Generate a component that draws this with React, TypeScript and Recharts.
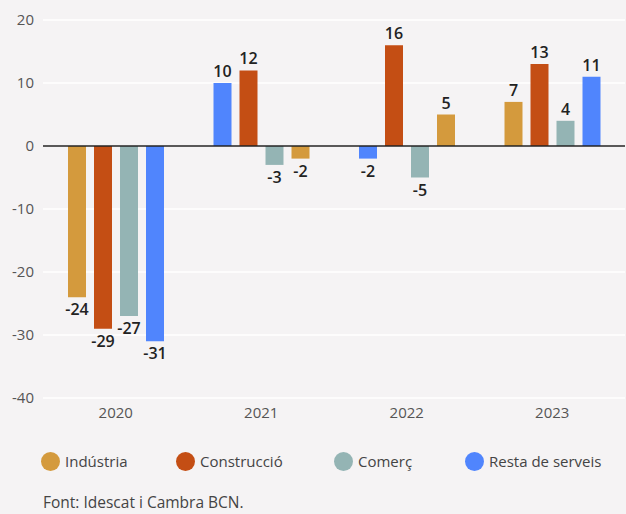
import { BarChart, Bar, XAxis, YAxis, CartesianGrid, ReferenceLine, Cell, LabelList } from 'recharts';

const years = ['2020', '2021', '2022', '2023'];
const seriesNames = ['Indústria', 'Construcció', 'Comerç', 'Resta de serveis'];
const seriesColors = ['#d49a3d', '#c44e14', '#94b4b4', '#5085fd'];

const industria = [-24, -2, 5, 7];
const construccio = [-29, 12, 16, 13];
const comerc = [-27, -3, -5, 4];
const restaServeis = [-31, 10, -2, 11];

// order of bars inside each year group (indexes into seriesNames)
const slotOrder = [
    [0, 1, 2, 3],
    [3, 1, 2, 0],
    [3, 1, 2, 0],
    [0, 1, 2, 3],
];

const yTicks = [-40, -30, -20, -10, 0, 10, 20];

const allSeries = [industria, construccio, comerc, restaServeis];
const chartData = years.map((year, i) => {
    const row: any = { year };
    slotOrder[i].forEach((s, slot) => {
        row[`s${slot}`] = allSeries[s][i];
        row[`c${slot}`] = seriesColors[s];
    });
    return row;
});

const FONT = '"Open Sans", Lato, sans-serif';

const ValueLabel = (props: any) => {
    const { x, y, width, height, value } = props;
    const top = Math.min(y, y + height);
    const bottom = Math.max(y, y + height);
    const cx = x + width / 2;
    const ty = value >= 0 ? top - 6 : bottom + 18;
    return (
        <text x={cx} y={ty} textAnchor="middle" fill="#222" fontSize={16} fontWeight={600} fontFamily={FONT}>
            {value}
        </text>
    );
};

export default function App() {
    return (
        <div style={{ position: 'fixed', left: 0, top: 0, width: 626, height: 514, background: '#f5f3f4', fontFamily: FONT }}>
            <BarChart
                width={626}
                height={430}
                data={chartData}
                margin={{ top: 20, right: 1, left: 0, bottom: 2 }}
                barSize={18}
                barGap={8}
            >
                <CartesianGrid vertical={false} stroke="#ffffff" strokeWidth={1.5} />
                <XAxis
                    dataKey="year"
                    axisLine={false}
                    tickLine={false}
                    tick={{ fill: '#555', fontSize: 15, fontFamily: FONT }}
                    tickMargin={3}
                    height={30}
                />
                <YAxis
                    domain={[-40, 20]}
                    ticks={yTicks}
                    axisLine={false}
                    tickLine={false}
                    width={43}
                    tickMargin={3}
                    tick={{ fill: '#555', fontSize: 15, fontFamily: FONT }}
                />
                <ReferenceLine y={0} stroke="#222" strokeWidth={1.5} />
                {[0, 1, 2, 3].map((slot) => (
                    <Bar key={slot} dataKey={`s${slot}`} isAnimationActive={false}>
                        {chartData.map((row, i) => (
                            <Cell key={i} fill={row[`c${slot}`]} />
                        ))}
                        <LabelList dataKey={`s${slot}`} content={<ValueLabel />} />
                    </Bar>
                ))}
            </BarChart>
            {seriesNames.map((name, i) => (
                <div
                    key={name}
                    style={{ position: 'absolute', top: 450, left: [41, 176, 334, 465][i], height: 22, display: 'flex', alignItems: 'center', fontSize: 15, color: '#444' }}
                >
                    <span style={{ width: 19, height: 19, borderRadius: '50%', background: seriesColors[i], marginRight: 5, display: 'inline-block' }} />
                    {name}
                </div>
            ))}
            <div style={{ position: 'absolute', top: 491, left: 43, fontSize: 15.5, color: '#444' }}>
                Font: Idescat i Cambra BCN.
            </div>
        </div>
    );
}
